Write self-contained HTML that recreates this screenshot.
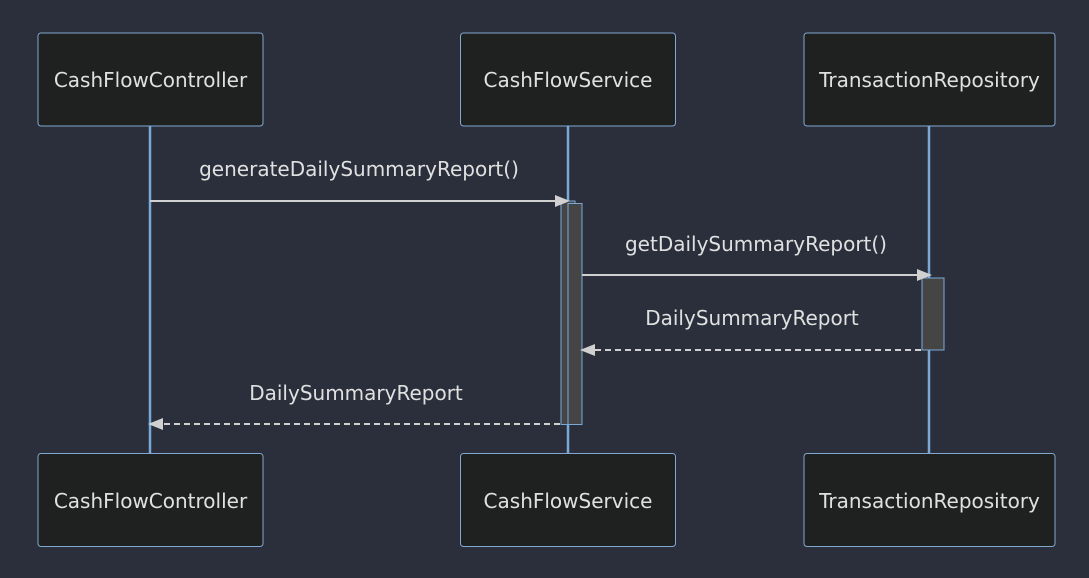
<!DOCTYPE html>
<html><head><style>
html,body{margin:0;padding:0;background:#2a2f3b;}
svg{display:block;}
text{font-family:"DejaVu Sans","Liberation Sans",sans-serif;fill:#e0e0e0;}
</style></head><body>
<svg width="1089" height="578" viewBox="0 0 1089 578" xmlns="http://www.w3.org/2000/svg">
<rect width="1089" height="578" fill="#2a2f3b"/>
<g stroke="#7aa9d8" stroke-width="2.5">
<line x1="150" y1="126" x2="150" y2="453"/>
<line x1="568" y1="126" x2="568" y2="453"/>
<line x1="929" y1="126" x2="929" y2="453"/>
</g>
<g fill="#1f2020" stroke="#81a8d0" stroke-width="1">
<rect x="38" y="33" width="225" height="93" rx="3"/>
<rect x="460.5" y="33" width="215" height="93" rx="3"/>
<rect x="804" y="33" width="251" height="93" rx="3"/>
<rect x="38" y="453.5" width="225" height="93" rx="3"/>
<rect x="460.5" y="453.5" width="215" height="93" rx="3"/>
<rect x="804" y="453.5" width="251" height="93" rx="3"/>
</g>
<g font-size="20" text-anchor="middle">
<text x="150.5" y="87">CashFlowController</text>
<text x="568" y="87">CashFlowService</text>
<text x="929.5" y="87">TransactionRepository</text>
<text x="150.5" y="508">CashFlowController</text>
<text x="568" y="508">CashFlowService</text>
<text x="929.5" y="508">TransactionRepository</text>
</g>
<g fill="#454545" stroke="#7aa9d8" stroke-width="1">
<rect x="561" y="201" width="14" height="223.5"/>
<rect x="568" y="203.5" width="14" height="221"/>
<rect x="922" y="278" width="22" height="72"/>
</g>
<g stroke="#d0d0d0" stroke-width="2" fill="none">
<line x1="150" y1="201" x2="558" y2="201"/>
<line x1="582" y1="275" x2="918" y2="275"/>
<line x1="921" y1="350" x2="594" y2="350" stroke-dasharray="6,4"/>
<line x1="560" y1="424" x2="162" y2="424" stroke-dasharray="6,4"/>
</g>
<g fill="#d0d0d0">
<polygon points="570,201 555,195 555,207"/>
<polygon points="932,275 917,269 917,281"/>
<polygon points="580,350 595,344 595,356"/>
<polygon points="148,424 163,418 163,430"/>
</g>
<g font-size="20" text-anchor="middle">
<text x="359" y="176">generateDailySummaryReport()</text>
<text x="756" y="251">getDailySummaryReport()</text>
<text x="752" y="325">DailySummaryReport</text>
<text x="356" y="400">DailySummaryReport</text>
</g>
</svg>
</body></html>
